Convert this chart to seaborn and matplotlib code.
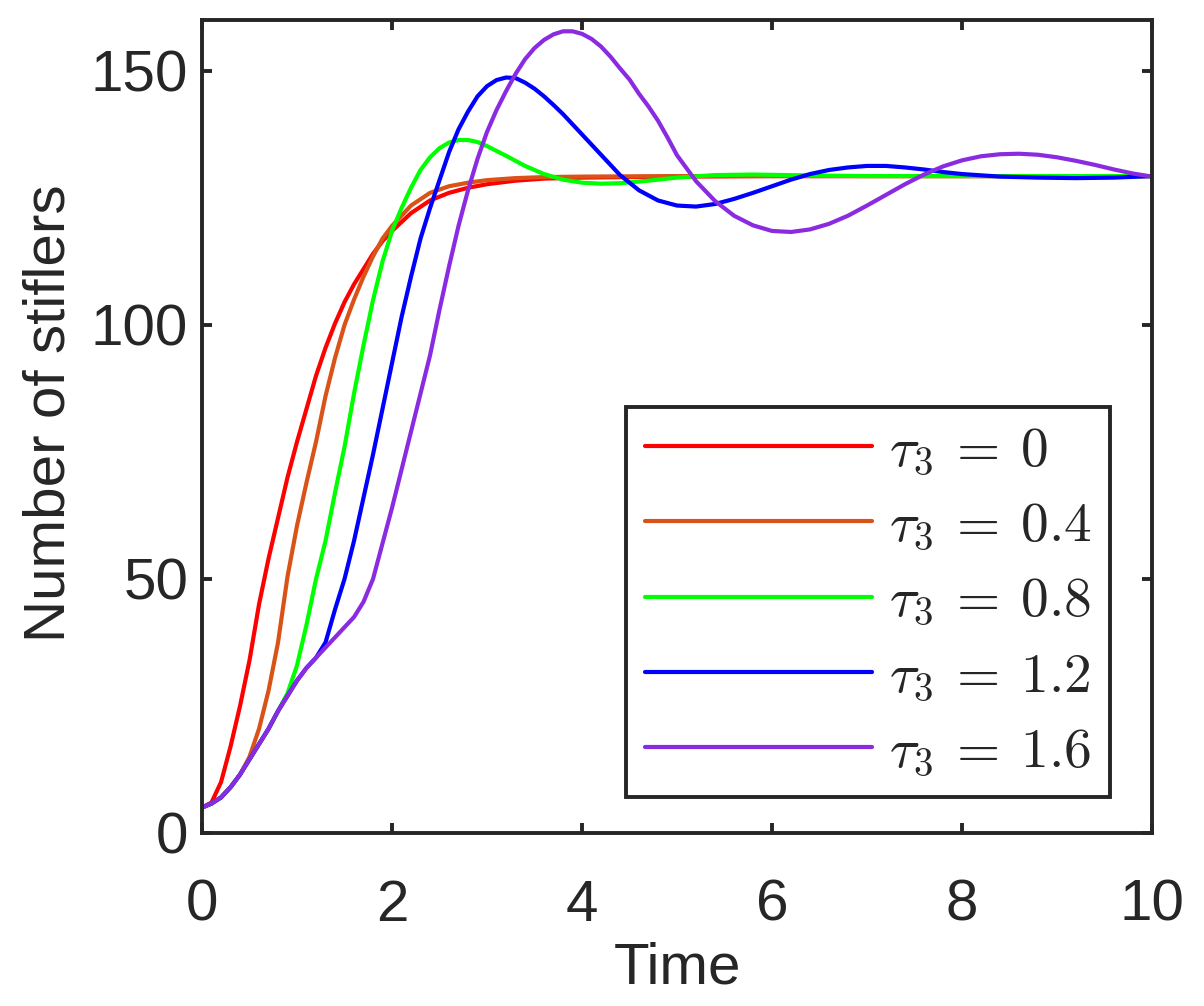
import numpy as np
import pandas as pd
import seaborn as sns
import matplotlib.pyplot as plt

# values
t_red = [0, 0.1, 0.2, 0.3, 0.4, 0.5, 0.6, 0.7, 0.8, 0.9, 1.0, 1.1, 1.2, 1.3, 1.4, 1.5, 1.6,
         1.7, 1.8, 1.9, 2.0, 2.2, 2.4, 2.6, 2.8, 3.0, 3.3, 3.6, 4.0, 5.0, 6.0, 7.0, 8.0, 9.0, 10.0]
v_red = [5, 6, 10, 17, 25, 34, 45, 54, 62, 70, 77, 83.5, 90, 95.5, 100.3, 104.5, 108,
         111, 114, 116.5, 118.5, 122, 124.5, 126, 127, 127.7, 128.4, 128.8, 129, 129.2, 129.3,
         129.3, 129.3, 129.3, 129.3]

t_orange = [0, 0.1, 0.2, 0.3, 0.4, 0.5, 0.6, 0.7, 0.8, 0.9, 1.0, 1.1, 1.2, 1.3, 1.4, 1.5, 1.6,
            1.7, 1.8, 1.9, 2.0, 2.2, 2.4, 2.6, 2.8, 3.0, 3.3, 3.6, 4.0, 5.0, 6.0, 7.0, 8.0, 9.0, 10.0]
v_orange = [5, 5.8, 7.0, 9.0, 11.5, 15, 20.5, 28, 37.5, 50.5, 60.5, 69, 77, 86, 93.5, 100, 105,
            109.5, 113.5, 117, 119.5, 123.5, 126, 127.3, 128, 128.5, 128.9, 129.1, 129.2, 129.3,
            129.3, 129.3, 129.3, 129.3, 129.3]

t_green = [0, 0.1, 0.2, 0.3, 0.4, 0.5, 0.6, 0.7, 0.8, 0.9, 1.0, 1.1, 1.2, 1.3, 1.4, 1.5, 1.6,
           1.7, 1.8, 1.9, 2.0, 2.1, 2.2, 2.3, 2.4, 2.5, 2.6, 2.7, 2.8, 2.9, 3.0, 3.2, 3.4, 3.6,
           3.8, 4.0, 4.2, 4.4, 4.7, 5.0, 5.4, 5.8, 6.5, 7.0, 8.0, 9.0, 10.0]
v_green = [5, 5.8, 7.0, 9.0, 11.5, 14.5, 17.5, 20.5, 24, 27.5, 33, 41, 50, 57.5, 67, 76, 86.5,
           96, 104.9, 112.5, 118.5, 123, 127, 130.5, 133, 134.8, 135.9, 136.4, 136.4, 136, 135.2,
           133.3, 131.3, 129.7, 128.6, 128, 127.8, 127.9, 128.4, 129, 129.5, 129.6, 129.4, 129.3,
           129.3, 129.3, 129.3]

t_blue = [0, 0.1, 0.2, 0.3, 0.4, 0.5, 0.6, 0.7, 0.8, 0.9, 1.0, 1.1, 1.2, 1.3, 1.4, 1.5, 1.6,
          1.7, 1.8, 1.9, 2.0, 2.1, 2.2, 2.3, 2.4, 2.5, 2.6, 2.7, 2.8, 2.9, 3.0, 3.1, 3.2, 3.3,
          3.4, 3.5, 3.6, 3.7, 3.8, 3.9, 4.0, 4.2, 4.4, 4.6, 4.8, 5.0, 5.2, 5.4, 5.6, 5.8, 6.0,
          6.2, 6.4, 6.6, 6.8, 7.0, 7.2, 7.4, 7.6, 7.8, 8.0, 8.4, 8.8, 9.2, 9.6, 10.0]
v_blue = [5, 5.8, 7.0, 9.0, 11.5, 14.5, 17.5, 20.5, 24, 27, 30, 32.5, 34.5, 37.5, 44, 50, 57.5,
          66, 74.5, 83.5, 92.5, 101.5, 109.5, 117, 123, 128.5, 134, 138.5, 142, 145, 147, 148.2,
          148.7, 148.6, 147.7, 146.5, 145, 143.3, 141.5, 139.5, 137.5, 133.5, 129.5, 126.5,
          124.5, 123.5, 123.3, 123.8, 124.8, 126, 127.3, 128.6, 129.7, 130.5, 131, 131.3, 131.3,
          131, 130.6, 130.1, 129.7, 129.2, 129, 128.9, 129, 129.3]

t_purple = [0, 0.1, 0.2, 0.3, 0.4, 0.5, 0.6, 0.7, 0.8, 0.9, 1.0, 1.1, 1.2, 1.3, 1.4, 1.5, 1.6,
            1.7, 1.8, 1.9, 2.0, 2.1, 2.2, 2.3, 2.4, 2.5, 2.6, 2.7, 2.8, 2.9, 3.0, 3.1, 3.2, 3.3,
            3.4, 3.5, 3.6, 3.7, 3.8, 3.9, 4.0, 4.1, 4.2, 4.3, 4.4, 4.5, 4.6, 4.7, 4.8, 4.9, 5.0,
            5.2, 5.4, 5.6, 5.8, 6.0, 6.2, 6.4, 6.6, 6.8, 7.0, 7.2, 7.4, 7.6, 7.8, 8.0, 8.2, 8.4,
            8.6, 8.8, 9.0, 9.2, 9.4, 9.6, 9.8, 10.0]
v_purple = [5, 5.8, 7.0, 9.0, 11.5, 14.5, 17.5, 20.5, 24, 27, 30, 32.5, 34.5, 36.5, 38.5, 40.5,
            42.5, 45.5, 50, 57, 64, 71.5, 79, 86.5, 94, 103, 111.5, 119.5, 126.5, 132.7, 138,
            142.3, 146, 149.4, 152.3, 154.5, 156.1, 157.2, 157.8, 157.8, 157.3, 156.3, 154.8,
            152.8, 150.5, 148.3, 145.5, 143, 140.2, 136.9, 133.4, 128.3, 124.4, 121.5, 119.6,
            118.5, 118.3, 118.8, 119.9, 121.5, 123.5, 125.6, 127.7, 129.6, 131.2, 132.4, 133.2,
            133.6, 133.7, 133.5, 133, 132.3, 131.5, 130.6, 129.8, 129.2]

labels = [r'$\tau_3\:=\:0$', r'$\tau_3\:=\:0.4$', r'$\tau_3\:=\:0.8$',
          r'$\tau_3\:=\:1.2$', r'$\tau_3\:=\:1.6$']
colors = ['#FF0000', '#D95319', '#00FF00', '#0000FF', '#8A2BE2']

series = [(t_red, v_red), (t_orange, v_orange), (t_green, v_green), (t_blue, v_blue), (t_purple, v_purple)]
frames = []
for lab, (t, v) in zip(labels, series):
    frames.append(pd.DataFrame({'Time': t, 'Stiflers': v, 'tau': lab}))
df = pd.concat(frames, ignore_index=True)

sns.set_style('ticks')
dark = '#262626'
plt.rcParams['font.family'] = ['Liberation Sans', 'DejaVu Sans']
plt.rcParams['mathtext.fontset'] = 'cm'
plt.rcParams['text.color'] = dark
plt.rcParams['axes.labelcolor'] = dark
plt.rcParams['xtick.color'] = dark
plt.rcParams['ytick.color'] = dark

fig = plt.figure(figsize=(12.04, 10.06), dpi=100)
ax = fig.add_axes([0.1678, 0.172, 0.789, 0.808])

sns.lineplot(data=df, x='Time', y='Stiflers', hue='tau', palette=dict(zip(labels, colors)),
             estimator=None, sort=False, linewidth=3.0, ax=ax)

ax.set_xlim(0, 10)
ax.set_ylim(0, 160)
ax.set_xticks([0, 2, 4, 6, 8, 10])
ax.set_yticks([0, 50, 100, 150])
ax.set_xlabel('Time', fontsize=42, labelpad=6)
ax.set_ylabel('Number of stiflers', fontsize=42, labelpad=10)
ax.yaxis.label.set_y(0.517)
ax.tick_params(axis='x', direction='in', length=7, width=2.8, labelsize=42, pad=33,
               top=True)
ax.tick_params(axis='y', direction='in', length=7, width=2.8, labelsize=42, pad=10,
               right=True)
for side in ax.spines.values():
    side.set_linewidth(2.8)
    side.set_color(dark)

handles, labs = ax.get_legend_handles_labels()
leg = ax.legend(handles, labs, loc='lower right', bbox_to_anchor=(0.956, 0.0443),
                borderaxespad=0, fontsize=40, handlelength=4.1, handletextpad=0.3,
                labelspacing=0.42, borderpad=0.33, fancybox=False, framealpha=1,
                edgecolor=dark)
leg.get_frame().set_linewidth(2.8)
for line in leg.get_lines():
    line.set_linewidth(3.0)

fig.savefig('out.png', dpi=100)
